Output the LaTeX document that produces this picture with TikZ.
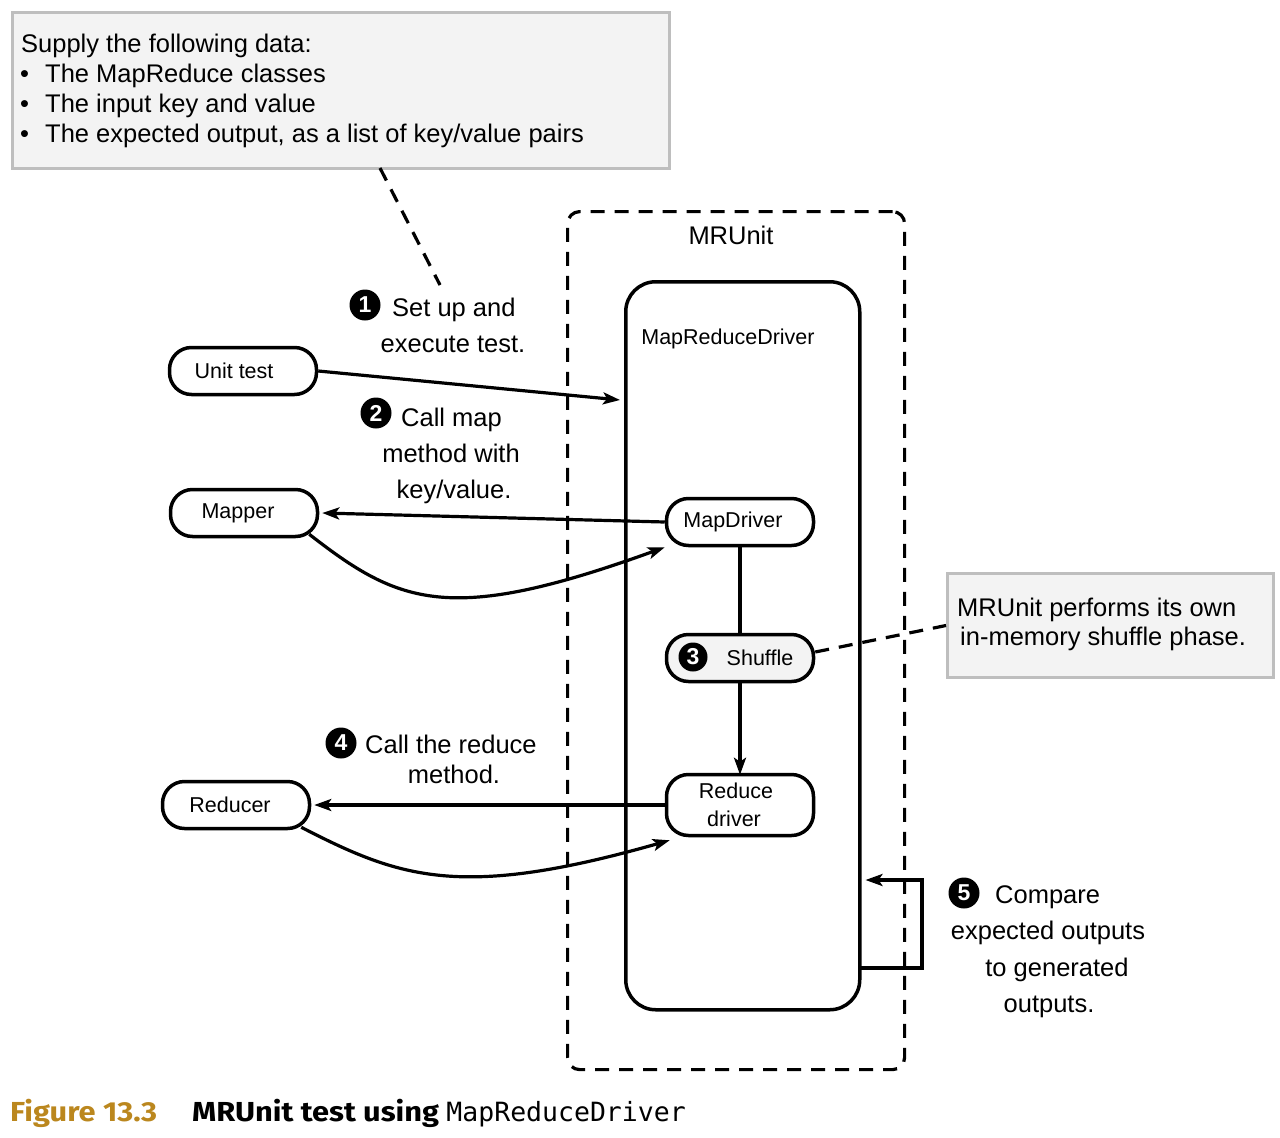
\documentclass[tikz,border=0pt]{standalone}
\usepackage{fontspec}
\setmainfont{Liberation Sans}
\newfontfamily\capfont[FakeStretch=1.12]{Fira Sans}
\newfontfamily\capmono{DejaVu Sans Mono}
\usetikzlibrary{arrows.meta}
\definecolor{boxgray}{RGB}{243,243,243}
\definecolor{boxline}{RGB}{190,190,190}
\definecolor{figgold}{RGB}{187,135,30}
\tikzset{
  big/.style={font=\fontsize{25.5}{30}\selectfont, inner sep=0pt},
  small/.style={font=\fontsize{21.5}{28}\selectfont},
  pill/.style={draw, line width=3.5pt, rounded corners=22pt, minimum width=147pt, minimum height=47pt, small, inner sep=0pt},
  conn/.style={line width=3.2pt},
  arr/.style={conn, -{Stealth[length=17pt,width=12pt,inset=4pt]}},
  dashln/.style={line width=3.2pt, dash pattern=on 14pt off 10pt},
  numc/.style={circle, fill=black, text=white, minimum size=31pt, inner sep=0pt, font=\fontsize{23}{23}\selectfont\bfseries},
  graybox/.style={draw=boxline, line width=3pt, fill=boxgray},
}
\begin{document}
\begin{tikzpicture}[x=1pt,y=-1pt]
\useasboundingbox[fill=white] (0,0) rectangle (1280,1138);

% top box
\node[graybox, minimum width=657pt, minimum height=156pt, anchor=north west] (topbox) at (11,11) {};
\node[big, anchor=base west] (t1) at (21,52) {Supply the following data:};
\node[big, anchor=base west] (b2) at (20,82) {•};
\node[big, anchor=base west] (t2) at (45,82) {The MapReduce classes};
\node[big, anchor=base west] (b3) at (20,112) {•};
\node[big, anchor=base west] (t3) at (45,112) {The input key and value};
\node[big, anchor=base west] (b4) at (20,142) {•};
\node[big, anchor=base west] (t4) at (45,142) {The expected output, as a list of key/value pairs};

% MRUnit dashed container
\node[draw, dashln, rounded corners=12pt, minimum width=337pt, minimum height=858pt, anchor=north west] (mrunit) at (566,210) {};
\node[big, anchor=base] (mrunitlbl) at (731,244) {MRUnit};

% MapReduceDriver
\node[draw, line width=3.5pt, rounded corners=30pt, minimum width=234pt, minimum height=728pt, anchor=north west] (mrd) at (624,280) {};
\node[small, anchor=base] (mrdlbl) at (728,344) {MapReduceDriver};

% left pills
\node[pill] (unittest) at (243,371) {Unit test\hspace*{18pt}};
\node[pill] (mapper) at (244,513) {Mapper\hspace*{12pt}};
\node[pill] (reducer) at (236,805) {Reducer\hspace*{12pt}};

% inner pills
\node[pill] (mapdriver) at (740,522) {MapDriver\hspace*{14pt}};
\node[pill, fill=boxgray] (shuffle) at (740,658) {\hspace*{40pt}Shuffle};
\node[numc, minimum size=29pt] (n3) at (693,657) {3};
\node[pill, minimum height=61pt, align=center, font=\fontsize{21.5}{28}\selectfont] (reducedriver) at (740,805) {Reduce\hspace*{8pt}\\driver\hspace*{12pt}};

% right gray box
\node[graybox, minimum width=326pt, minimum height=104pt, anchor=north west] (shufbox) at (946,572) {};
\node[big, anchor=base west] (s1) at (957,616) {MRUnit performs its own};
\node[big, anchor=base west] (s2) at (960,645) {in-memory shuffle phase.};

% step labels
\node[numc] (n1) at (365,305) {1};
\node[big, anchor=base west] (l1a) at (392,316) {Set up and};
\node[big, anchor=base] (l1b) at (453,352) {execute test.};
\node[numc] (n2) at (376,413) {2};
\node[big, anchor=base west] (l2a) at (401,426) {Call map};
\node[big, anchor=base] (l2b) at (451,462) {method with};
\node[big, anchor=base] (l2c) at (454,498) {key/value.};
\node[numc] (n4) at (341,743) {4};
\node[big, anchor=base west] (l4a) at (365,753) {Call the reduce};
\node[big, anchor=base] (l4b) at (454,783) {method.};
\node[numc] (n5) at (964,893) {5};
\node[big, anchor=base west] (l5a) at (995,903) {Compare};
\node[big, anchor=base] (l5b) at (1048,939) {expected outputs};
\node[big, anchor=base] (l5c) at (1057,976) {to generated};
\node[big, anchor=base] (l5d) at (1049,1012) {outputs.};

% dashed callouts
\coordinate (topcall) at (380,168);
\coordinate (topend) at (440,285);
\draw[dashln] (topcall) -- (topend);
\draw[dashln] (shuffle.east) ++(0,-6) -- (shufbox.west);

% connectors
\coordinate (utend) at (620,400);
\draw[arr] (unittest.east) -- (utend);
\draw[arr] (mapdriver.west) -- ([xshift=3pt]mapper.east);
\draw[arr] (mapper.south east) ++(-10,-4) .. controls (400,605) and (450,625) .. (mapdriver.south west);
\draw[conn] (mapdriver.south) -- (shuffle.north);
\draw[arr] (shuffle.south) -- ([yshift=-2pt]reducedriver.north);
\draw[arr] (reducedriver.west) -- ([xshift=3pt]reducer.east);
\draw[arr] (reducer.south east) ++(-10,-3) .. controls (400,878) and (460,900) .. ([xshift=5pt,yshift=-3pt]reducedriver.south west);
\coordinate (fbout) at (858,968);
\coordinate (fbcorner) at (922,880);
\draw[arr] (fbout) -- (fbcorner |- fbout) -- (fbcorner) -- ([xshift=4pt]mrd.east |- fbcorner);

% caption
\node[anchor=base west, inner sep=0pt, text=figgold, font=\capfont\bfseries\fontsize{27.5}{30}\selectfont] (figno) at (10,1121) {Figure 13.3};
\node[anchor=base west, inner sep=0pt, font=\capfont\bfseries\fontsize{27.5}{30}\selectfont] (figtitle) at (192,1121) {MRUnit test using \capmono\mdseries\fontsize{26.5}{30}\selectfont MapReduceDriver};
\end{tikzpicture}
\end{document}
